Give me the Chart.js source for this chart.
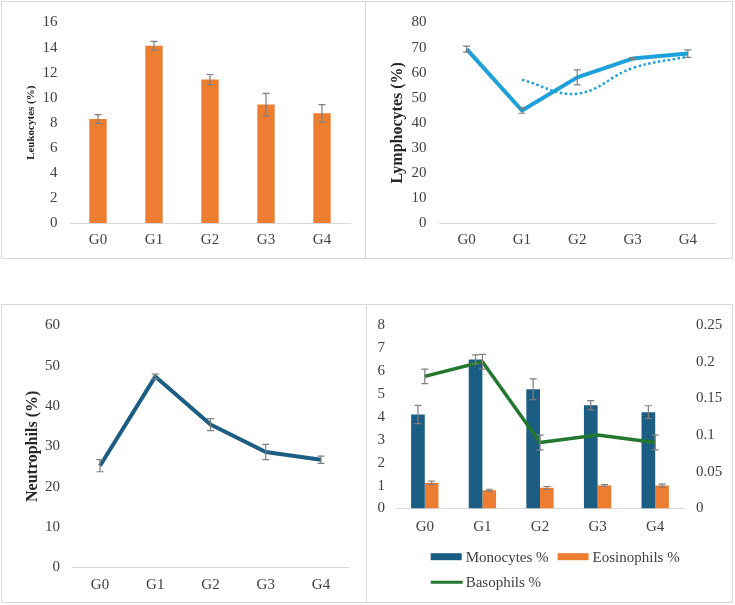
<!DOCTYPE html>
<html>
<head>
<meta charset="utf-8">
<script src="https://cdn.jsdelivr.net/npm/chart.js@4.4.1/dist/chart.umd.min.js"></script>
<style>
  body { margin: 0; background: #fff; }
  canvas { position: absolute; }
  .box { position: absolute; box-sizing: border-box; border: 1px solid #d9d9d9; }
</style>
</head>
<body>
<canvas id="chart1" width="365" height="258" style="left:1px;top:1px"></canvas>
<canvas id="chart2" width="368" height="258" style="left:365px;top:1px"></canvas>
<canvas id="chart3" width="366" height="299" style="left:1px;top:304px"></canvas>
<canvas id="chart4" width="367" height="299" style="left:366px;top:304px"></canvas>
<div class="box" style="left:1px;top:1px;width:365px;height:258px"></div>
<div class="box" style="left:365px;top:1px;width:368px;height:258px"></div>
<div class="box" style="left:1px;top:304px;width:366px;height:299px"></div>
<div class="box" style="left:366px;top:304px;width:367px;height:299px"></div>
<script>
// Data
const groups = ['G0', 'G1', 'G2', 'G3', 'G4'];

const leukocytes = [8.3, 14.15, 11.45, 9.45, 8.75];
const leukocytesErr = [0.35, 0.35, 0.4, 0.9, 0.7];

const lymphocytes = [69.4, 44.9, 58.1, 65.6, 67.6];
const lymphocytesErr = [1.2, 1.1, 3.0, 0.4, 1.5];
const lymphocytesTrend = [null, 57.1, 51.6, 61.8, 66.4];

const neutrophils = [25.2, 47.3, 35.4, 28.6, 26.7];
const neutrophilsErr = [1.5, 0.6, 1.5, 1.9, 0.9];

const monocytes = [4.1, 6.5, 5.2, 4.5, 4.2];
const monocytesErr = [0.4, 0.2, 0.45, 0.2, 0.28];
const eosinophils = [1.12, 0.8, 0.9, 1.0, 1.0];
const eosinophilsErr = [0.08, 0.04, 0.06, 0.04, 0.06];
const basophils = [0.18, 0.2, 0.09, 0.1, 0.09];
const basophilsErr = [0.01, 0.01, 0.01, 0, 0.01];

Chart.defaults.font.family = '"Liberation Serif", "Times New Roman", serif';
Chart.defaults.font.size = 15;
Chart.defaults.color = '#404040';
Chart.defaults.animation = false;
Chart.defaults.plugins.legend.display = false;
Chart.defaults.plugins.tooltip.enabled = false;

const orange = '#ED7D31';
const darkBlue = '#1C5D84';
const skyBlue = '#1DA1DB';
const green = '#23772F';

// error bars from dataset.errors
const errorBars = {
    id: 'errorBars',
    afterDatasetsDraw(chart) {
        const ctx = chart.ctx;
        chart.data.datasets.forEach((ds, di) => {
            if (!ds.errors) return;
            const meta = chart.getDatasetMeta(di);
            const yScale = chart.scales[meta.yAxisID];
            ctx.save();
            ctx.strokeStyle = '#7f7f7f';
            ctx.lineWidth = 1.2;
            meta.data.forEach((el, i) => {
                const v = ds.data[i];
                const e = ds.errors[i];
                if (v == null || !e) return;
                const x = el.x;
                const yTop = yScale.getPixelForValue(v + e);
                const yBot = yScale.getPixelForValue(v - e);
                ctx.beginPath();
                ctx.moveTo(x, yTop); ctx.lineTo(x, yBot);
                ctx.moveTo(x - 3.5, yTop); ctx.lineTo(x + 3.5, yTop);
                ctx.moveTo(x - 3.5, yBot); ctx.lineTo(x + 3.5, yBot);
                ctx.stroke();
            });
            ctx.restore();
        });
    }
};

// Excel-like legend, rows left aligned
const rowLegend = {
    id: 'rowLegend',
    afterDraw(chart, args, opts) {
        if (!opts.rows) return;
        const ctx = chart.ctx;
        ctx.save();
        ctx.font = '15px "Liberation Serif", serif';
        ctx.textBaseline = 'middle';
        opts.rows.forEach((row, r) => {
            let x = opts.x;
            const y = opts.y + r * opts.rowGap;
            row.forEach(di => {
                const ds = chart.data.datasets[di];
                if (ds.type === 'line') {
                    ctx.strokeStyle = ds.borderColor;
                    ctx.lineWidth = 3;
                    ctx.beginPath();
                    ctx.moveTo(x, y); ctx.lineTo(x + 32, y);
                    ctx.stroke();
                } else {
                    ctx.fillStyle = ds.backgroundColor;
                    ctx.fillRect(x, y - 3.5, 31, 7);
                }
                ctx.fillStyle = '#404040';
                ctx.fillText(ds.label, x + 35, y + 1);
                x += 35 + ctx.measureText(ds.label).width + 9;
            });
        });
        ctx.restore();
    }
};

Chart.register(errorBars, rowLegend);

const fixWidth = w => s => { s.width = w; };
const fixHeight = h => s => { s.height = h; };

function xAxis(height, pad) {
    return {
        offset: true,
        grid: { display: false, drawTicks: false, offset: true },
        border: { color: '#d9d9d9' },
        ticks: { padding: pad },
        afterFit: fixHeight(height)
    };
}

function yAxis(max, step, width, pad, title, titleSize, titlePad) {
    return {
        min: 0, max: max,
        grid: { display: false, drawTicks: false },
        border: { display: false },
        ticks: { stepSize: step, padding: pad },
        title: {
            display: !!title, text: title, color: '#262626',
            font: { weight: 'bold', size: titleSize },
            padding: { top: titlePad, bottom: 0 }
        },
        afterFit: fixWidth(width)
    };
}

// Leukocytes
new Chart(document.getElementById('chart1'), {
    type: 'bar',
    data: {
        labels: groups,
        datasets: [{
            label: 'Leukocytes (%)',
            data: leukocytes,
            errors: leukocytesErr,
            backgroundColor: orange,
            categoryPercentage: 1,
            barPercentage: 0.31
        }]
    },
    options: {
        responsive: false,
        layout: { padding: { left: 0, top: 17, right: 16, bottom: 0 } },
        scales: {
            x: xAxis(36, 8),
            y: yAxis(16, 2, 69, 12.5, 'Leukocytes (%)', 11, 24)
        }
    }
});

// Lymphocytes
new Chart(document.getElementById('chart2'), {
    type: 'line',
    data: {
        labels: groups,
        datasets: [
            {
                label: 'Lymphocytes (%)',
                data: lymphocytes,
                errors: lymphocytesErr,
                borderColor: skyBlue,
                borderWidth: 4,
                borderJoinStyle: 'round',
                pointRadius: 0
            },
            {
                label: 'Trend',
                data: lymphocytesTrend,
                borderColor: skyBlue,
                borderWidth: 2.5,
                borderDash: [2.5, 2.5],
                tension: 0.4,
                pointRadius: 0
            }
        ]
    },
    options: {
        responsive: false,
        layout: { padding: { left: 0, top: 17, right: 17.5, bottom: 0 } },
        scales: {
            x: xAxis(36, 8),
            y: yAxis(80, 10, 74, 12.5, 'Lymphocytes (%)', 16, 23.4)
        }
    }
});

// Neutrophils
new Chart(document.getElementById('chart3'), {
    type: 'line',
    data: {
        labels: groups,
        datasets: [{
            label: 'Neutrophils (%)',
            data: neutrophils,
            errors: neutrophilsErr,
            borderColor: darkBlue,
            borderWidth: 4,
            borderJoinStyle: 'round',
            pointRadius: 0
        }]
    },
    options: {
        responsive: false,
        layout: { padding: { left: 0, top: 19.3, right: 18.4, bottom: 0 } },
        scales: {
            x: xAxis(35.7, 8.8),
            y: yAxis(60, 10, 71.4, 12.4, 'Neutrophils (%)', 16, 22.7)
        }
    }
});

// Monocytes / Eosinophils / Basophils
const rightAxis = yAxis(0.25, 0.05, 49, 12, '', 14, 0);
rightAxis.position = 'right';
rightAxis.ticks.callback = v => String(+v.toFixed(2));

new Chart(document.getElementById('chart4'), {
    type: 'bar',
    data: {
        labels: groups,
        datasets: [
            {
                label: 'Monocytes %',
                data: monocytes,
                errors: monocytesErr,
                backgroundColor: darkBlue,
                categoryPercentage: 0.475,
                barPercentage: 1,
                order: 1
            },
            {
                label: 'Eosinophils %',
                data: eosinophils,
                errors: eosinophilsErr,
                backgroundColor: orange,
                categoryPercentage: 0.475,
                barPercentage: 1,
                order: 1
            },
            {
                type: 'line',
                label: 'Basophils %',
                data: basophils,
                errors: basophilsErr,
                yAxisID: 'y1',
                borderColor: green,
                borderWidth: 3.5,
                borderJoinStyle: 'round',
                pointRadius: 0,
                order: 0
            }
        ]
    },
    options: {
        responsive: false,
        layout: { padding: { left: 0, top: 19.3, right: 0, bottom: 0 } },
        plugins: {
            rowLegend: { rows: [[0, 1], [2]], x: 64.7, y: 252.7, rowGap: 25.6 }
        },
        scales: {
            x: xAxis(94.5, 9.5),
            y: yAxis(8, 1, 30, 11, '', 14, 0),
            y1: rightAxis
        }
    }
});
</script>
</body>
</html>
